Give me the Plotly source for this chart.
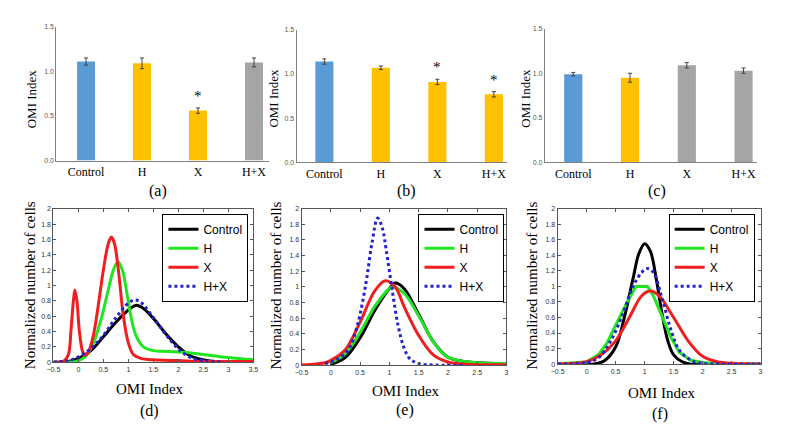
import plotly.graph_objects as go

W, H = 794, 426

# ---------------- data ----------------
categories = ["Control", "H", "X", "H+X"]
bar_colors_a = ["#5B9BD5", "#FFC000", "#FFC000", "#A5A5A5"]
bar_colors_b = ["#5B9BD5", "#FFC000", "#FFC000", "#FFC000"]
bar_colors_c = ["#5B9BD5", "#FFC000", "#A5A5A5", "#A5A5A5"]

a_vals = [1.11, 1.09, 0.56, 1.10]
a_err = [0.04, 0.06, 0.03, 0.05]
a_star = [False, False, True, False]

b_vals = [1.14, 1.07, 0.91, 0.77]
b_err = [0.03, 0.02, 0.03, 0.03]
b_star = [False, False, True, True]

c_vals = [0.99, 0.95, 1.09, 1.03]
c_err = [0.02, 0.05, 0.03, 0.03]
c_star = [False, False, False, False]

# (d)
d_ctrl_x = [-0.5, -0.2, 0, 0.25, 0.5, 0.75, 1.0, 1.15, 1.3, 1.5, 1.75, 2.0, 2.25, 2.5, 2.8, 3.5]
d_ctrl_y = [0, 0.01, 0.05, 0.15, 0.33, 0.52, 0.68, 0.74, 0.70, 0.57, 0.37, 0.20, 0.08, 0.03, 0.005, 0]
d_h_x = [-0.5, 0, 0.15, 0.3, 0.45, 0.6, 0.7, 0.79, 0.88, 0.97, 1.05, 1.15, 1.3, 1.5, 1.8, 2.1, 2.5, 3.0, 3.5]
d_h_y = [0, 0.02, 0.08, 0.25, 0.55, 0.95, 1.2, 1.31, 1.2, 0.9, 0.6, 0.35, 0.2, 0.15, 0.14, 0.13, 0.10, 0.06, 0.03]
d_x_x = [-0.5, -0.3, -0.2, -0.15, -0.1, -0.07, -0.03, 0.02, 0.08, 0.13, 0.2, 0.3, 0.4, 0.5, 0.6, 0.66, 0.72, 0.8, 0.9, 1.0, 1.1, 1.25, 1.5, 2.0, 2.5, 3.5]
d_x_y = [0, 0.01, 0.1, 0.4, 0.8, 0.94, 0.8, 0.4, 0.15, 0.09, 0.13, 0.35, 0.75, 1.2, 1.55, 1.63, 1.55, 1.2, 0.6, 0.25, 0.1, 0.05, 0.03, 0.02, 0.01, 0.01]
d_hx_x = [-0.5, -0.2, 0, 0.25, 0.5, 0.75, 1.0, 1.12, 1.25, 1.5, 1.75, 2.0, 2.25, 2.5, 2.85]
d_hx_y = [0, 0.02, 0.07, 0.18, 0.35, 0.58, 0.77, 0.81, 0.78, 0.58, 0.36, 0.17, 0.06, 0.02, 0]

# (e)
e_ctrl_x = [0, 0.25, 0.5, 0.75, 1.0, 1.1, 1.25, 1.5, 1.75, 2.0, 2.25, 2.5, 3.0]
e_ctrl_y = [0.01, 0.1, 0.35, 0.7, 0.98, 1.05, 0.98, 0.65, 0.3, 0.1, 0.05, 0.03, 0.02]
e_h_x = [0, 0.25, 0.5, 0.75, 1.0, 1.05, 1.25, 1.5, 1.75, 2.0, 2.5, 3.0]
e_h_y = [0.03, 0.15, 0.42, 0.75, 0.98, 1.0, 0.92, 0.63, 0.3, 0.1, 0.03, 0.02]
e_x_x = [-0.5, -0.1, 0, 0.25, 0.5, 0.75, 0.93, 1.1, 1.25, 1.5, 1.75, 2.0, 2.3, 3.0]
e_x_y = [0, 0.03, 0.06, 0.2, 0.55, 0.95, 1.08, 1.0, 0.75, 0.38, 0.13, 0.04, 0.01, 0.005]
e_hx_x = [-0.1, 0.1, 0.3, 0.45, 0.6, 0.7, 0.8, 0.88, 0.95, 1.05, 1.15, 1.25, 1.35, 1.5, 1.8, 2.3]
e_hx_y = [0.02, 0.07, 0.2, 0.5, 1.05, 1.55, 1.88, 1.75, 1.45, 0.95, 0.5, 0.22, 0.08, 0.02, 0, 0]

# (f)
f_ctrl_x = [-0.5, 0.1, 0.3, 0.5, 0.65, 0.8, 0.9, 1.0, 1.1, 1.2, 1.3, 1.4, 1.5, 1.65, 1.8, 3.0]
f_ctrl_y = [0, 0, 0.04, 0.22, 0.6, 1.1, 1.42, 1.55, 1.45, 1.1, 0.65, 0.3, 0.12, 0.03, 0, 0]
f_h_x = [-0.5, 0, 0.2, 0.35, 0.5, 0.7, 0.85, 1.05, 1.15, 1.3, 1.45, 1.6, 1.8, 2.0, 2.3, 3.0]
f_h_y = [0, 0.03, 0.12, 0.27, 0.5, 0.8, 1.0, 1.0, 0.88, 0.62, 0.35, 0.15, 0.05, 0.02, 0, 0]
f_x_x = [-0.5, 0, 0.25, 0.5, 0.75, 0.95, 1.1, 1.25, 1.5, 1.75, 2.0, 2.25, 2.5, 3.0]
f_x_y = [0, 0.03, 0.12, 0.3, 0.62, 0.88, 0.94, 0.88, 0.6, 0.3, 0.1, 0.03, 0.01, 0]
f_hx_x = [-0.5, 0, 0.2, 0.4, 0.6, 0.8, 0.95, 1.05, 1.15, 1.3, 1.45, 1.6, 1.8, 2.0, 2.3, 3.0]
f_hx_y = [0, 0.02, 0.08, 0.28, 0.6, 1.0, 1.18, 1.23, 1.18, 0.85, 0.45, 0.18, 0.05, 0.01, 0, 0]

# ---------------- helpers ----------------
def px(x):
    return x / W

def py(y):
    return 1 - y / H

SERIF = "Liberation Serif, Times New Roman, serif"
SANS = "Arial, Liberation Sans, sans-serif"

fig = go.Figure()

bar_panels = [
    (1, a_vals, a_err, a_star, bar_colors_a, (42, 258), (151, 15), [-0.53, 3.27]),
    (2, b_vals, b_err, b_star, bar_colors_b, (286, 500), (153, 18), [-0.49, 3.24]),
    (3, c_vals, c_err, c_star, bar_colors_c, (538, 753), (153, 17), [-0.5, 3.23]),
]

layout = dict(
    width=W, height=H, margin=dict(l=0, r=0, t=0, b=0),
    paper_bgcolor="white", plot_bgcolor="white", showlegend=True,
)

for idx, vals, errs, stars, cols, xd, yd, xr in bar_panels:
    xa = "x" if idx == 1 else f"x{idx}"
    ya = "y" if idx == 1 else f"y{idx}"
    fig.add_trace(go.Bar(
        x=categories, y=vals, marker=dict(color=cols, line=dict(width=0)),
        width=0.32,
        error_y=dict(type="data", array=errs, color="#404040", thickness=1, width=2),
        xaxis=xa, yaxis=ya, showlegend=False,
    ))
    kx = "xaxis" if idx == 1 else f"xaxis{idx}"
    ky = "yaxis" if idx == 1 else f"yaxis{idx}"
    layout[kx] = dict(
        domain=[px(xd[0]), px(xd[1])], anchor=ya, range=xr, type="category",
        showline=True, linecolor="#7f7f7f", linewidth=1, ticks="",
        tickfont=dict(family=SERIF, size=12, color="black"), showgrid=False,
        fixedrange=True,
    )
    layout[ky] = dict(
        domain=[py(yd[0]), py(yd[1])], anchor=xa, range=[0, 1.5],
        tickvals=[0, 0.5, 1.0, 1.5], ticktext=["0.0", "0.5", "1.0", "1.5"],
        showline=True, linecolor="#7f7f7f", linewidth=1, ticks="",
        tickfont=dict(family=SANS, size=7, color="#595959"), showgrid=False,
        zeroline=False,
    )
    for cat, v, e, s in zip(categories, vals, errs, stars):
        if s:
            fig.add_annotation(x=cat, y=v + e, xref=xa, yref=ya, text="*",
                               showarrow=False, yanchor="bottom", yshift=2,
                               font=dict(family=SERIF, size=15, color="black"))

line_panels = [
    (4, [(d_ctrl_x, d_ctrl_y), (d_h_x, d_h_y), (d_x_x, d_x_y), (d_hx_x, d_hx_y)],
     (39, 242), (356, 200), [-0.5, 3.5], "legend", 237),
    (5, [(e_ctrl_x, e_ctrl_y), (e_h_x, e_h_y), (e_x_x, e_x_y), (e_hx_x, e_hx_y)],
     (291, 499), (359, 200), [-0.5, 3.0], "legend2", 497),
    (6, [(f_ctrl_x, f_ctrl_y), (f_h_x, f_h_y), (f_x_x, f_x_y), (f_hx_x, f_hx_y)],
     (551, 757), (358, 200), [-0.5, 3.0], "legend3", 751),
]
names = ["Control", "H", "X", "H+X"]
styles = [
    dict(color="black", width=3, dash="solid"),
    dict(color="#22E522", width=3, dash="solid"),
    dict(color="#F01E1E", width=3, dash="solid"),
    dict(color="#2222D0", width=3, dash="dot"),
]

for idx, series, xd, yd, xr, leg, legright in line_panels:
    xa, ya = f"x{idx}", f"y{idx}"
    for (xs, ys), nm, st in zip(series, names, styles):
        shape = "linear" if (idx == 6 and nm == "H") else "spline"
        fig.add_trace(go.Scatter(
            x=xs, y=ys, mode="lines", name=nm, line=dict(shape=shape, **st),
            xaxis=xa, yaxis=ya, legend=leg,
        ))
    layout[f"xaxis{idx}"] = dict(
        domain=[px(xd[0]), px(xd[1])], anchor=ya, range=xr, dtick=0.5,
        showline=True, mirror="allticks", linecolor="#555", linewidth=1,
        ticks="inside", ticklen=3, tickcolor="#555",
        tickfont=dict(family=SANS, size=7, color="#333"), showgrid=False, zeroline=False,
    )
    layout[f"yaxis{idx}"] = dict(
        domain=[py(yd[0]), py(yd[1])], anchor=xa, range=[0, 2], dtick=0.2,
        showline=True, mirror="allticks", linecolor="#555", linewidth=1,
        ticks="inside", ticklen=3, tickcolor="#555",
        tickfont=dict(family=SANS, size=7, color="#333"), showgrid=False, zeroline=False,
    )
    layout[leg] = dict(
        x=px(legright), y=py(205), xanchor="right", yanchor="top",
        bgcolor="white", bordercolor="black", borderwidth=1,
        font=dict(family=SANS, size=12, color="black"),
        itemwidth=30, tracegroupgap=0, traceorder="normal",
    )

fig.update_layout(**layout)

texts = [
    ("(a)", 145, 182, 16, 0), ("(b)", 398, 182, 16, 0), ("(c)", 652, 182, 16, 0),
    ("(d)", 137, 406, 16, 0), ("(e)", 396, 405, 16, 0), ("(f)", 655, 409, 16, 0),
    ("OMI Index", 137, 383, 15, 0), ("OMI Index", 397, 385, 15, 0), ("OMI Index", 657, 387, 15, 0),
    ("OMI Index", 17, 88, 13, -90), ("OMI Index", 263, 88, 13, -90), ("OMI Index", 518, 88, 13, -90),
    ("Normalized number of cells", 16, 278, 15, -90),
    ("Normalized number of cells", 265, 278, 15, -90),
    ("Normalized number of cells", 525, 278, 15, -90),
]
for t, x, y, s, ang in texts:
    fig.add_annotation(x=px(x), y=py(y), xref="paper", yref="paper", text=t,
                       showarrow=False, textangle=ang, xanchor="center", yanchor="middle",
                       font=dict(family=SERIF, size=s, color="black"))

fig.write_html("out.html")
